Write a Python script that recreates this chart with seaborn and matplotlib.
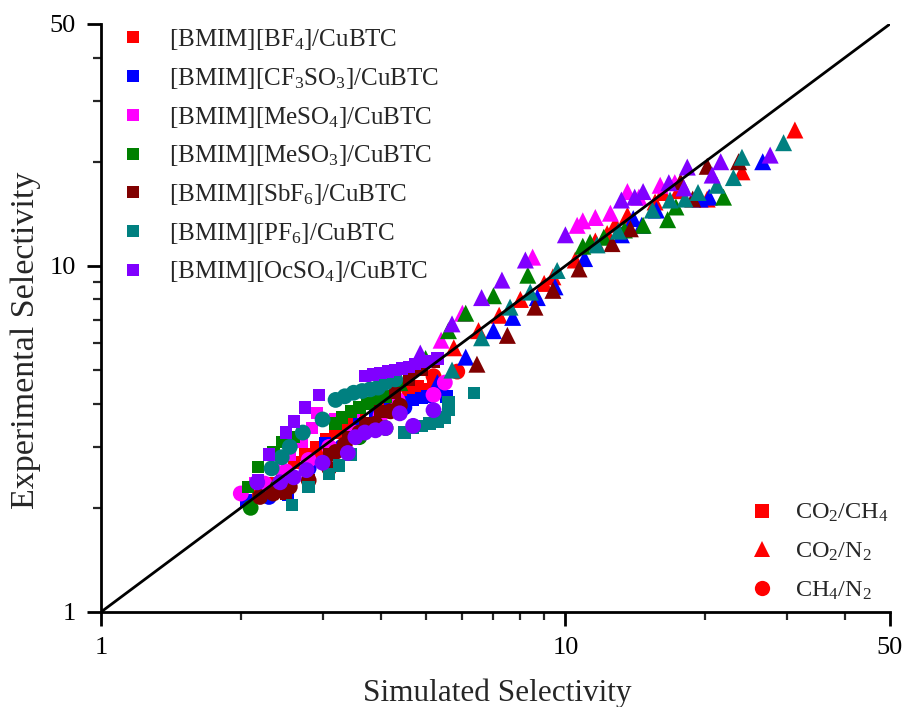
import matplotlib
matplotlib.use("Agg")
import matplotlib.pyplot as plt
from matplotlib.lines import Line2D
from matplotlib.ticker import FixedLocator, FixedFormatter, NullFormatter
import seaborn as sns
import pandas as pd

# ---------------------------------------------------------------------------
# Simulated vs. experimental selectivities of IL/CuBTC composites
# each entry: (simulated, experimental)
# ---------------------------------------------------------------------------
systems = ["[BMIM][BF$_4$]/CuBTC", "[BMIM][CF$_3$SO$_3$]/CuBTC",
           "[BMIM][MeSO$_4$]/CuBTC", "[BMIM][MeSO$_3$]/CuBTC",
           "[BMIM][SbF$_6$]/CuBTC", "[BMIM][PF$_6$]/CuBTC",
           "[BMIM][OcSO$_4$]/CuBTC"]
colors = ["#ff0000", "#0000ff", "#ff00ff", "#008000", "#800000", "#008080", "#8000ff"]
gases = ["CO$_2$/CH$_4$", "CO$_2$/N$_2$", "CH$_4$/N$_2$"]

# [BMIM][BF4]
bf4_co2ch4 = [(2.3, 2.35), (2.45, 2.5), (2.6, 2.7), (2.75, 2.85), (2.9, 3.0), (3.05, 3.15),
              (3.2, 3.3), (3.4, 3.5), (3.6, 3.7), (3.9, 4.05), (4.1, 4.2), (4.3, 4.35),
              (4.6, 4.4), (4.8, 4.5), (5.0, 4.4), (5.2, 4.6)]
bf4_co2n2 = [(5.75, 5.8), (6.5, 6.5), (7.2, 7.2), (8.0, 8.0), (9.0, 8.9), (9.4, 9.3),
             (10.5, 10.4), (11.6, 11.8), (12.3, 12.4), (12.8, 13.2), (13.6, 14.0),
             (15.6, 15.3), (16.2, 16.3), (17.5, 16.5), (20.2, 15.6), (24.0, 18.7), (31.2, 24.7)]
bf4_ch4n2 = [(2.2, 2.2), (2.5, 2.45), (2.9, 2.85), (3.4, 3.3), (4.0, 3.9), (4.6, 4.4),
             (5.2, 4.8), (5.85, 4.95)]

# [BMIM][CF3SO3]
cf3so3_co2ch4 = [(2.05, 2.1), (2.53, 2.18), (3.04, 3.08), (3.6, 3.5), (3.9, 3.7), (4.2, 3.9),
                 (4.5, 4.05), (4.7, 4.1), (4.9, 4.15), (5.05, 4.2), (5.55, 4.2)]
cf3so3_co2n2 = [(5.3, 4.6), (6.1, 5.45), (7.0, 6.5), (7.7, 7.1), (8.7, 8.1), (9.5, 8.7),
                (11.0, 10.5), (13.2, 12.3), (14.0, 13.7), (14.6, 13.1), (15.7, 14.5),
                (19.5, 15.6), (20.4, 15.8), (26.6, 20.0)]
cf3so3_ch4n2 = [(2.3, 2.15), (2.8, 2.6), (3.3, 3.0), (3.9, 3.5), (4.5, 3.9)]

# [BMIM][MeSO4]
meso4_co2ch4 = [(2.15, 2.35), (2.35, 2.6), (2.55, 2.85), (2.7, 3.1), (2.85, 3.4), (2.92, 3.76),
                (3.2, 3.6), (3.5, 3.8), (3.8, 4.0), (4.2, 4.2)]
meso4_co2n2 = [(5.4, 6.1), (6.0, 7.3), (8.5, 10.6), (10.6, 13.1), (10.9, 13.5), (11.6, 13.8),
               (12.5, 14.2), (13.6, 16.4), (14.4, 15.8), (16.0, 17.1), (17.2, 17.4)]
meso4_ch4n2 = [(2.0, 2.2), (2.25, 2.35), (2.5, 2.55), (2.8, 2.75), (3.1, 3.0), (3.5, 3.3),
               (4.0, 3.7), (4.35, 4.1), (5.2, 4.24), (5.5, 4.6)]

# [BMIM][MeSO3]
meso3_co2ch4 = [(2.07, 2.3), (2.18, 2.62), (2.35, 2.9), (2.45, 3.1), (2.6, 3.2), (3.2, 3.5),
                (3.3, 3.65), (3.45, 3.8), (3.6, 3.9), (3.75, 4.0), (3.9, 4.1), (4.1, 4.2)]
meso3_co2n2 = [(4.4, 4.6), (5.0, 5.4), (5.6, 6.5), (6.1, 7.3), (7.0, 8.2), (8.3, 9.4),
               (10.9, 11.4), (11.3, 11.7), (12.1, 12.1), (13.4, 12.7), (14.7, 13.1),
               (16.6, 13.6), (17.3, 14.8), (21.9, 15.8)]
meso3_ch4n2 = [(2.1, 2.0), (2.4, 2.3), (3.6, 3.2), (4.1, 3.4)]

# [BMIM][SbF6]
sbf6_co2ch4 = [(2.5, 2.2), (2.8, 2.4), (3.1, 2.85), (3.4, 3.2), (3.7, 3.5), (4.0, 3.8),
               (4.3, 4.3), (4.6, 4.7), (4.9, 5.0), (5.2, 5.3)]
sbf6_co2n2 = [(6.45, 5.2), (7.5, 6.3), (8.6, 7.6), (9.4, 8.5), (10.7, 9.8), (12.6, 11.6),
              (13.8, 12.8), (17.7, 17.5), (18.8, 15.6), (20.2, 19.4), (23.6, 20.0)]
sbf6_ch4n2 = [(2.2, 2.15), (2.35, 2.2), (2.55, 2.3), (2.8, 2.4), (3.1, 2.6), (3.2, 2.9),
              (3.35, 3.05), (3.6, 3.3), (3.9, 3.5), (4.2, 3.8), (4.4, 3.95)]

# [BMIM][PF6]
pf6_co2ch4 = [(2.58, 2.04), (2.8, 2.3), (3.1, 2.5), (3.25, 2.65), (3.45, 2.85), (4.5, 3.3),
              (4.7, 3.4), (4.9, 3.45), (5.1, 3.5), (5.3, 3.55), (5.5, 3.65), (5.6, 3.85),
              (5.6, 4.05), (6.35, 4.3)]
pf6_co2n2 = [(5.7, 5.0), (6.6, 6.2), (7.6, 7.6), (8.4, 8.4), (9.6, 9.7), (11.7, 11.5),
             (13.0, 12.6), (15.4, 14.5), (16.8, 15.5), (18.1, 15.6), (19.3, 16.3),
             (21.2, 17.1), (23.0, 18.0), (24.0, 20.6), (29.5, 22.7)]
pf6_ch4n2 = [(2.33, 2.6), (2.45, 2.8), (2.55, 3.0), (2.72, 3.3), (3.0, 3.6), (3.2, 4.1),
             (3.35, 4.2), (3.5, 4.3), (3.65, 4.35), (3.8, 4.4), (3.95, 4.45), (4.1, 4.6),
             (4.3, 4.7)]

# [BMIM][OcSO4]
ocso4_co2ch4 = [(2.18, 2.4), (2.3, 2.85), (2.5, 3.3), (2.6, 3.55), (2.75, 3.9), (2.95, 4.24),
                (3.7, 4.8), (3.85, 4.85), (4.0, 4.9), (4.15, 4.95), (4.3, 5.0), (4.45, 5.05),
                (4.6, 5.1), (4.75, 5.2), (5.0, 5.3), (5.3, 5.4)]
ocso4_co2n2 = [(4.87, 5.6), (5.7, 6.8), (6.6, 8.1), (7.3, 9.1), (8.2, 10.4), (10.0, 12.3),
               (13.2, 15.5), (14.1, 15.8), (14.7, 16.4), (16.7, 17.4), (18.0, 16.8),
               (18.3, 19.3), (20.7, 18.3), (21.6, 20.0), (27.6, 20.9)]
ocso4_ch4n2 = [(2.17, 2.37), (2.43, 2.37), (2.6, 2.45), (2.77, 2.57), (3.0, 2.7), (3.4, 2.88),
               (3.53, 3.2), (3.7, 3.3), (3.9, 3.35), (4.1, 3.4), (4.4, 3.75), (4.7, 3.45),
               (5.2, 3.83)]

series = [
    (bf4_co2ch4, bf4_co2n2, bf4_ch4n2),
    (cf3so3_co2ch4, cf3so3_co2n2, cf3so3_ch4n2),
    (meso4_co2ch4, meso4_co2n2, meso4_ch4n2),
    (meso3_co2ch4, meso3_co2n2, meso3_ch4n2),
    (sbf6_co2ch4, sbf6_co2n2, sbf6_ch4n2),
    (pf6_co2ch4, pf6_co2n2, pf6_ch4n2),
    (ocso4_co2ch4, ocso4_co2n2, ocso4_ch4n2),
]

rows = []
for name, sets in zip(systems, series):
    for gas, pts in zip(gases, sets):
        for sim, exp in pts:
            rows.append({"sim": sim, "exp": exp, "system": name, "gas": gas})
df = pd.DataFrame(rows)

# ---------------------------------------------------------------------------
sns.set_theme(style="white")
plt.rcParams["font.family"] = ["Liberation Serif", "DejaVu Serif"]
plt.rcParams["mathtext.fontset"] = "custom"
plt.rcParams["mathtext.rm"] = "Liberation Serif"
plt.rcParams["mathtext.it"] = "Liberation Serif:italic"
plt.rcParams["mathtext.bf"] = "Liberation Serif:bold"

fig = plt.figure(figsize=(9.07, 7.07), dpi=100)
ax = fig.add_axes([101 / 907, 1 - 612 / 707, 789 / 907, 588 / 707])

markers = {gases[0]: "s", gases[1]: "^", gases[2]: "o"}
sizes = {gases[0]: 80, gases[1]: 150, gases[2]: 130}
palette = dict(zip(systems, colors))

sns.scatterplot(data=df, x="sim", y="exp", hue="system", style="gas", size="gas",
                hue_order=systems, style_order=gases, size_order=gases,
                palette=palette, markers=markers, sizes=sizes,
                linewidth=0, alpha=1, legend=False, ax=ax, zorder=2)

# parity line
ax.plot([1, 50], [1, 50], color="black", lw=2, zorder=3)

ax.set_xscale("log")
ax.set_yscale("log")
ax.set_xlim(1, 50)
ax.set_ylim(1, 50)

major = [1, 10, 50]
minor = [2, 3, 4, 5, 6, 7, 8, 9, 20, 30, 40]
for axis in (ax.xaxis, ax.yaxis):
    axis.set_major_locator(FixedLocator(major))
    axis.set_major_formatter(FixedFormatter(["1", "10", "50"]))
    axis.set_minor_locator(FixedLocator(minor))
    axis.set_minor_formatter(NullFormatter())

ax.tick_params(which="major", direction="out", length=10, width=2, labelsize=19,
               pad=8, colors="black", left=True, bottom=True)
ax.tick_params(which="minor", direction="out", length=6, width=1.6, left=True, bottom=True)

for side in ("top", "right"):
    ax.spines[side].set_visible(False)
for side in ("left", "bottom"):
    ax.spines[side].set_linewidth(2)
    ax.spines[side].set_color("black")

ax.set_xlabel("Simulated Selectivity", fontsize=22.5)
ax.set_ylabel("Experimental Selectivity", fontsize=24.5)
ax.xaxis.set_label_coords(0.5025, (612 - 679) / 588)
ax.yaxis.set_label_coords((41 - 101) / 789, (612 - 340) / 588)

# legend of composites
h1 = [Line2D([], [], ls="none", marker="s", markersize=9, color=c, markeredgewidth=0)
      for c in colors]
leg1 = fig.legend(h1, systems, loc="upper left", bbox_to_anchor=(120 / 907, 1 - 27 / 707),
                  frameon=False, fontsize=18, handlelength=1.0, handletextpad=0.95,
                  labelspacing=0.55, borderpad=0, borderaxespad=0)

# legend of gas pairs
h2 = [Line2D([], [], ls="none", marker="s", markersize=9.5, color="#ff0000", markeredgewidth=0),
      Line2D([], [], ls="none", marker="^", markersize=12, color="#ff0000", markeredgewidth=0),
      Line2D([], [], ls="none", marker="o", markersize=11, color="#ff0000", markeredgewidth=0)]
leg2 = fig.legend(h2, gases, loc="lower left", bbox_to_anchor=(750 / 907, 1 - 602 / 707),
                  frameon=False, fontsize=17.5, handlelength=1.0, handletextpad=0.85,
                  labelspacing=0.68, borderpad=0, borderaxespad=0)

fig.savefig("out.png", dpi=100)
